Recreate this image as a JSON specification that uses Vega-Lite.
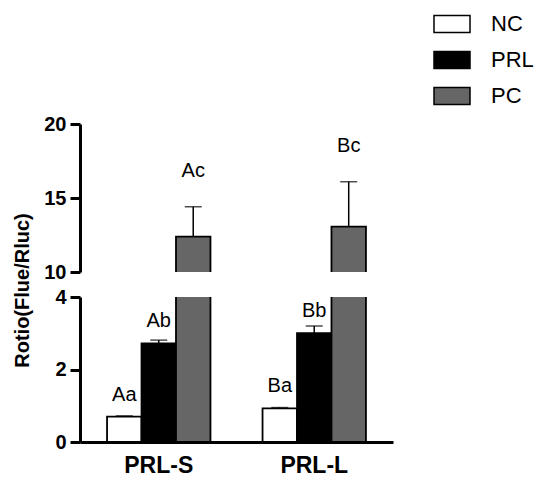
{
  "$schema": "https://vega.github.io/schema/vega-lite/v6.json",
  "padding": {"left": 12, "top": 5, "right": 0, "bottom": 0},
  "bounds": "flush",
  "data": {
    "values": [
      {"group": "PRL-S", "treatment": "NC", "mean": 0.70, "upper": 0.72, "label": "Aa"},
      {"group": "PRL-S", "treatment": "PRL", "mean": 2.72, "upper": 2.81, "label": "Ab"},
      {"group": "PRL-S", "treatment": "PC", "mean": 12.39, "upper": 14.41, "label": "Ac"},
      {"group": "PRL-L", "treatment": "NC", "mean": 0.93, "upper": 0.95, "label": "Ba"},
      {"group": "PRL-L", "treatment": "PRL", "mean": 3.0, "upper": 3.2, "label": "Bb"},
      {"group": "PRL-L", "treatment": "PC", "mean": 13.06, "upper": 16.1, "label": "Bc"}
    ]
  },
  "config": {
    "view": {"stroke": null},
    "font": "Liberation Sans",
    "concat": {"spacing": 25},
    "axis": {
      "domainColor": "black", "domainWidth": 3, "tickColor": "black", "tickWidth": 3, "tickSize": 10,
      "labelColor": "black", "labelFont": "Liberation Sans", "labelFontWeight": "bold", "labelFontSize": 20,
      "labelPadding": 4, "grid": false, "titleColor": "black"
    },
    "legend": {
      "orient": "none", "legendX": 353, "legendY": -119, "title": null,
      "symbolType": "M-1,-0.47H1V0.47H-1Z", "symbolSize": 1296,
      "symbolStrokeColor": "black", "symbolStrokeWidth": 1.5,
      "labelFont": "Liberation Sans", "labelFontSize": 22, "labelColor": "black",
      "labelOffset": 20, "rowPadding": 5
    }
  },
  "resolve": {"scale": {"y": "independent", "x": "shared", "xOffset": "shared", "color": "shared"}},
  "vconcat": [
    {
      "width": 313,
      "height": 148,
      "transform": [{"filter": "datum.treatment === 'PC'"}],
      "encoding": {
        "x": {"field": "group", "type": "nominal", "sort": ["PRL-S", "PRL-L"], "scale": {"paddingInner": 0.335, "paddingOuter": 0.174}, "axis": null},
        "xOffset": {"field": "treatment", "type": "nominal", "scale": {"domain": ["NC", "PRL", "PC"], "paddingInner": 0, "paddingOuter": 0}}
      },
      "layer": [
        {
          "mark": {"type": "bar", "clip": true, "stroke": "black", "strokeWidth": 1.8},
          "encoding": {
            "y": {"field": "mean", "type": "quantitative", "scale": {"domain": [10, 20], "nice": false, "zero": false}, "axis": {"values": [10, 15, 20], "title": null}},
            "color": {"field": "treatment", "type": "nominal", "scale": {"domain": ["NC", "PRL", "PC"], "range": ["#ffffff", "#000000", "#666666"]}}
          }
        },
        {
          "mark": {"type": "rule", "color": "black", "strokeWidth": 1.5},
          "encoding": {"y": {"field": "mean", "type": "quantitative"}, "y2": {"field": "upper"}}
        },
        {
          "mark": {"type": "tick", "color": "black", "thickness": 1.5, "size": 17, "orient": "horizontal"},
          "encoding": {"y": {"field": "upper", "type": "quantitative"}}
        },
        {
          "mark": {"type": "text", "dy": -36, "fontSize": 20, "baseline": "middle", "color": "black"},
          "encoding": {"y": {"field": "upper", "type": "quantitative"}, "text": {"field": "label"}}
        }
      ]
    },
    {
      "width": 313,
      "height": 145,
      "encoding": {
        "x": {"field": "group", "type": "nominal", "sort": ["PRL-S", "PRL-L"], "scale": {"paddingInner": 0.335, "paddingOuter": 0.174},
              "axis": {"title": null, "ticks": false, "labelAngle": 0, "labelFontSize": 23, "labelPadding": 12}},
        "xOffset": {"field": "treatment", "type": "nominal", "scale": {"domain": ["NC", "PRL", "PC"], "paddingInner": 0, "paddingOuter": 0}}
      },
      "layer": [
        {
          "mark": {"type": "bar", "clip": true, "stroke": "black", "strokeWidth": 1.8},
          "encoding": {
            "y": {"field": "mean", "type": "quantitative", "scale": {"domain": [0, 4], "nice": false},
                  "axis": {"values": [0, 2, 4], "title": "Rotio(Flue/Rluc)", "titleFontSize": 20, "titleFontWeight": "bold",
                           "titleAngle": -90, "titleX": -58, "titleY": -7, "titleAlign": "center", "titleBaseline": "middle"}},
            "color": {"field": "treatment", "type": "nominal", "scale": {"domain": ["NC", "PRL", "PC"], "range": ["#ffffff", "#000000", "#666666"]}}
          }
        },
        {
          "transform": [{"filter": "datum.treatment !== 'PC'"}],
          "mark": {"type": "rule", "color": "black", "strokeWidth": 1.5},
          "encoding": {"y": {"field": "mean", "type": "quantitative"}, "y2": {"field": "upper"}}
        },
        {
          "transform": [{"filter": "datum.treatment !== 'PC'"}],
          "mark": {"type": "tick", "color": "black", "thickness": 1.5, "size": 17, "orient": "horizontal"},
          "encoding": {"y": {"field": "upper", "type": "quantitative"}}
        },
        {
          "transform": [{"filter": "datum.treatment !== 'PC'"}],
          "mark": {"type": "text", "dy": -22, "fontSize": 20, "baseline": "middle", "color": "black"},
          "encoding": {"y": {"field": "mean", "type": "quantitative"}, "text": {"field": "label"}}
        }
      ]
    }
  ]
}
